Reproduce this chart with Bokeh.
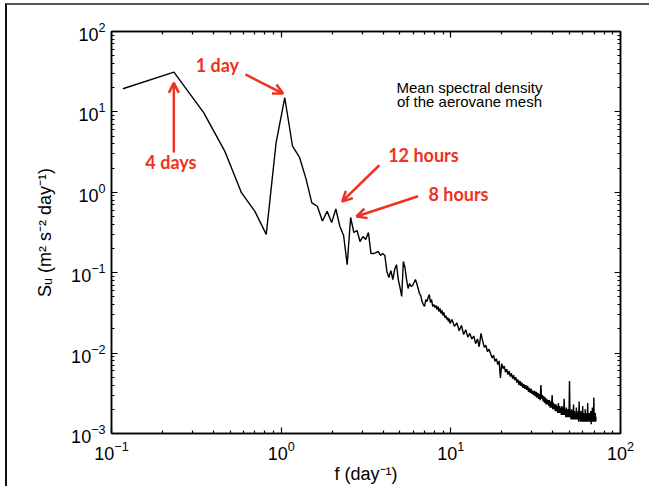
import numpy as np
from bokeh.plotting import figure
from bokeh.models import LogAxis, Label, Arrow, OpenHead, FixedTicker, CustomJSTickFormatter
from bokeh.embed import file_html
from bokeh.resources import INLINE

# ---------------- data ----------------
DF = 0.11667  # frequency resolution, day^-1

# spectral density for bins k = 1..86 (f up to ~10 day^-1)
S_low = [19.4, 31.2, 9.74, 3.2, 0.99, 0.58, 0.30, 4.13, 15.0, 3.74,
         2.71, 1.48, 0.74, 0.67, 0.44, 0.58, 0.42, 0.62, 0.379, 0.29,
         0.126, 0.486, 0.316, 0.335, 0.244, 0.282, 0.259, 0.316, 0.173, 0.173,
         0.178, 0.184, 0.164, 0.173, 0.164, 0.103, 0.0871, 0.106, 0.0822, 0.110,
         0.126, 0.0822, 0.0655, 0.0506, 0.138, 0.116, 0.0822, 0.0636, 0.0734, 0.0673,
         0.0693, 0.0755, 0.0822, 0.0734, 0.0636, 0.0551, 0.0520, 0.0438, 0.0402, 0.0380,
         0.0464, 0.0438, 0.0491, 0.0536, 0.0426, 0.0464, 0.0380, 0.0402, 0.0369, 0.0391,
         0.0349, 0.0380, 0.0329, 0.0359, 0.0311, 0.0339, 0.0294, 0.0320, 0.0277, 0.0294,
         0.0262, 0.0277, 0.0247, 0.0269, 0.0233, 0.0247]

# spectral density for every third bin from k = 87 to 615 (f ~10 .. 72 day^-1)
S_high = [0.0262, 0.0215, 0.0238, 0.0190, 0.0221, 0.0170, 0.0195, 0.0158, 0.0176, 0.0150,
          0.0163, 0.0131, 0.0150, 0.0120, 0.0176, 0.0142, 0.0118, 0.0125, 0.0104, 0.0112,
          0.0099, 0.0087, 0.0094, 0.0079, 0.0085, 0.0072, 0.0080, 0.0049, 0.0074, 0.0064,
          0.0069, 0.0058, 0.0063, 0.0054, 0.0060, 0.0051, 0.0056, 0.0048, 0.0053, 0.0046,
          0.0050, 0.0043, 0.0047, 0.0040, 0.0045, 0.0039, 0.0043, 0.0037, 0.0041, 0.0036,
          0.0040, 0.0035, 0.0039, 0.0033, 0.0037, 0.0032, 0.0036, 0.0031, 0.0034, 0.0030,
          0.0034, 0.0029, 0.0033, 0.0028, 0.0032, 0.0027, 0.0031, 0.0026, 0.0040, 0.0027,
          0.0030, 0.0025, 0.0029, 0.0024, 0.0028, 0.0023, 0.0027, 0.0023, 0.0026, 0.0022,
          0.0026, 0.0021, 0.0025, 0.0021, 0.0030, 0.0020, 0.0024, 0.0020, 0.0023, 0.0019,
          0.0023, 0.0019, 0.0022, 0.0018, 0.0024, 0.0018, 0.0022, 0.0018, 0.0021, 0.0017,
          0.0022, 0.0017, 0.0021, 0.0017, 0.0027, 0.0017, 0.0020, 0.0016, 0.0021, 0.0016,
          0.0020, 0.0016, 0.0020, 0.0016, 0.0045, 0.0016, 0.0019, 0.0015, 0.0020, 0.0015,
          0.0019, 0.0015, 0.0023, 0.0015, 0.0019, 0.0015, 0.0018, 0.0015, 0.0021, 0.0015,
          0.0018, 0.0015, 0.0019, 0.0014, 0.0025, 0.0015, 0.0018, 0.0014, 0.0019, 0.0014,
          0.0018, 0.0014, 0.0022, 0.0014, 0.0018, 0.0014, 0.0017, 0.0014, 0.0020, 0.0014,
          0.0017, 0.0014, 0.0018, 0.0014, 0.0024, 0.0014, 0.0017, 0.0014, 0.0018, 0.0014,
          0.0017, 0.0014, 0.0019, 0.0013, 0.0017, 0.0014, 0.0021, 0.0014, 0.0017, 0.0014,
          0.0028, 0.0014, 0.0017, 0.0014, 0.0018, 0.0014, 0.0016]

X_TICKS = [0.1, 1, 10, 100]
Y_TICKS = [1e-3, 1e-2, 1e-1, 1, 10, 100]
X_LABEL = "f (day\u207b\u00b9)"
Y_LABEL = "S\u1d64 (m\u00b2 s\u207b\u00b2 day\u207b\u00b9)"

# annotations: (text, x, y) and arrows (tail_x, tail_y, tip_x, tip_y), in data units
NOTES = [("1 day", 0.421, 37.8), ("4 days", 0.224, 2.35),
         ("12 hours", 6.89, 2.87), ("8 hours", 11.09, 0.966)]
ARROWS = [(0.233, 3.13, 0.233, 23.0), (0.616, 29.2, 1.027, 16.9),
          (3.79, 2.17, 2.29, 0.769), (6.41, 0.894, 2.78, 0.5)]
INSET = [("Mean spectral density", 12.87, 20.3), ("of the aerovane mesh", 12.87, 13.6)]

f = np.concatenate([DF * np.arange(1, 87), DF * np.arange(87, 618, 3)])
S = np.concatenate([S_low, S_high])

RED = "#eb3323"
FONT = "Liberation Sans"

def minors(ticks):
    out = []
    for t in ticks[:-1]:
        out += [m * t for m in range(2, 10)]
    return out

p = figure(frame_width=509, frame_height=402, x_axis_type="log", y_axis_type="log",
           x_range=(0.1, 100), y_range=(1e-3, 1e2), output_backend="svg",
           toolbar_location=None, min_border_left=104, min_border_right=29,
           min_border_top=26, min_border_bottom=50)
p.styles = {"border-top": "2px solid #555555", "border-left": "2px solid #111111",
            "margin-left": "5px", "margin-top": "3px"}
p.grid.visible = False
p.outline_line_color = "black"
p.outline_line_width = 1.5
p.background_fill_color = "white"
p.border_fill_color = "white"

p.line(f, S, line_color="black", line_width=1.4)

bottom = p.below[0]
left = p.left[0]
top = LogAxis()
right = LogAxis()
p.add_layout(top, "above")
p.add_layout(right, "right")

for ax, ticks in ((bottom, X_TICKS), (left, Y_TICKS), (top, X_TICKS), (right, Y_TICKS)):
    ax.ticker = FixedTicker(ticks=ticks, minor_ticks=minors(ticks))
    ax.major_tick_in = 6
    ax.major_tick_out = 0
    ax.minor_tick_in = 3
    ax.minor_tick_out = 0
    ax.axis_line_width = 1.5
    ax.major_tick_line_width = 1.2
    ax.minor_tick_line_width = 1.2
    ax.major_label_text_font = FONT
    ax.major_label_text_font_size = "18px"
    ax.major_label_text_color = "black"
    ax.axis_label_text_font = FONT
    ax.axis_label_text_font_size = "18px"
    ax.axis_label_text_font_style = "normal"
    ax.axis_label_text_color = "black"

for ax in (top, right):
    ax.formatter = CustomJSTickFormatter(code="return ''")
    ax.major_label_standoff = 0
    ax.major_label_text_font_size = "1px"

bottom.major_label_standoff = 7
left.major_label_standoff = 6
bottom.axis_label = X_LABEL
bottom.axis_label_standoff = 1
left.axis_label = Y_LABEL
left.axis_label_standoff = 13

for t, x, y in NOTES:
    p.add_layout(Label(x=x, y=y, text=t, text_align="center", text_baseline="middle",
                       text_font="Lato", text_font_style="bold", text_font_size="18px",
                       text_color=RED))
for x0, y0, x1, y1 in ARROWS:
    p.add_layout(Arrow(x_start=x0, y_start=y0, x_end=x1, y_end=y1, line_color=RED,
                       line_width=2.5,
                       end=OpenHead(size=10, line_color=RED, line_width=2.5)))
for t, x, y in INSET:
    p.add_layout(Label(x=x, y=y, text=t, text_align="center", text_baseline="alphabetic",
                       text_font=FONT, text_font_size="15px", text_color="black"))

open("out.html", "w").write(file_html(p, INLINE))
